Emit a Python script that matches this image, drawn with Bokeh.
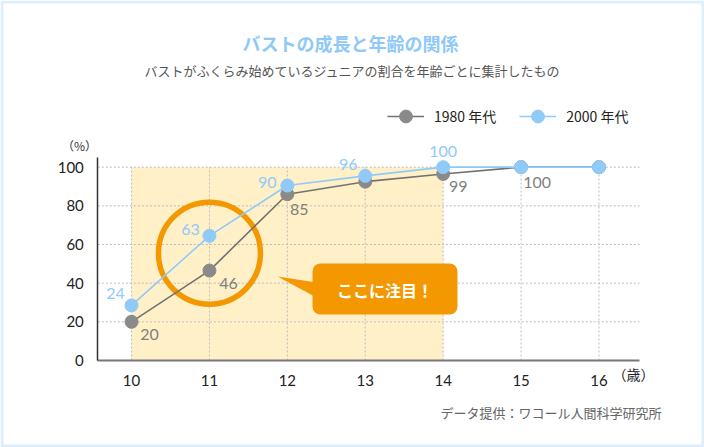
from bokeh.plotting import figure
from bokeh.models import (Range1d, FixedTicker, BoxAnnotation, PolyAnnotation, Label,
                          LabelSet, ColumnDataSource, Legend, LegendItem)
from bokeh.core.properties import value
from bokeh.embed import file_html
from bokeh.resources import INLINE

# ---- data ----
ages = [10, 11, 12, 13, 14, 15, 16]
bust_1980 = [20, 46.5, 86, 92.5, 96.5, 100, 100]
bust_2000 = [28.5, 64.5, 90.5, 95.5, 100, 100, 100]
labels_1980 = ["20", "46", "85", "", "99", "100", ""]
labels_2000 = ["24", "63", "90", "96", "100", "", ""]
y_ticks = [0, 20, 40, 60, 80, 100]
highlight_ages = [10, 14]
focus_age = 11

# ---- label offsets (layout) ----
off_1980_x = [18, 19, 12, 0, 15, 16, 0]
off_1980_y = [-13, -13, -15, 0, -13, -15, 0]
off_2000_x = [-16, -19, -20, -17, 0, 0, 0]
off_2000_y = [12, 6, 3, 11, 16, 0, 0]

GRAY = "#8a8a8a"
GRAY_LINE = "#727272"
BLUE = "#90caf9"
ORANGE = "#f39800"
JP = "Noto Sans CJK JP"
NUM = "Lato"

# ---- layout: canvas size and plot-area position (pixels) ----
W, H = 704, 447
AREA_L, AREA_R, AREA_T, AREA_B = 97.3, 639, 157, 360
X_LO, X_HI = 9.567, 16.52
Y_LO, Y_HI = 0, 105
sx = (AREA_R - AREA_L) / (X_HI - X_LO)
sy = (AREA_B - AREA_T) / (Y_HI - Y_LO)
x_range = Range1d(X_LO - AREA_L / sx, X_HI + (W - AREA_R) / sx)
y_range = Range1d(Y_LO - (H - AREA_B) / sy, Y_HI + AREA_T / sy)

p = figure(width=W, height=H, x_range=x_range, y_range=y_range,
           output_backend="svg", toolbar_location=None,
           min_border_left=0, min_border_right=0, min_border_top=0, min_border_bottom=0)
p.outline_line_color = None
p.background_fill_color = "white"
p.border_fill_color = "white"

# frame border around the whole picture
p.add_layout(BoxAnnotation(left=1.5, right=W - 1.5, bottom=1.5, top=H - 1.5,
                           left_units="screen", right_units="screen",
                           bottom_units="screen", top_units="screen",
                           fill_color=None, line_color="#8ec9f7", line_width=3, level="overlay"))

# axes (fixed inside the canvas)
p.xaxis.fixed_location = Y_LO
p.xaxis.bounds = (X_LO, X_HI)
p.yaxis.fixed_location = X_LO
p.yaxis.bounds = (Y_LO, Y_HI)
p.xaxis.ticker = FixedTicker(ticks=ages)
p.yaxis.ticker = FixedTicker(ticks=y_ticks)
for ax in (p.xaxis, p.yaxis):
    ax.major_tick_line_color = None
    ax.minor_tick_line_color = None
    ax.major_label_text_font = NUM
    ax.major_label_text_font_size = "15px"
    ax.major_label_text_color = "#222222"
p.xaxis.axis_line_color = "#777777"
p.xaxis.axis_line_width = 2
p.yaxis.axis_line_color = "#333333"
p.yaxis.axis_line_width = 1.5
p.xaxis.major_label_standoff = 8
p.yaxis.major_label_standoff = 8
p.xgrid.visible = False
p.ygrid.visible = False

# highlight band
p.add_layout(BoxAnnotation(left=highlight_ages[0], right=highlight_ages[1], bottom=0, top=max(y_ticks),
                           fill_color="#fff0c8", fill_alpha=1, line_color=None, level="image"))

# dotted grid
hy = y_ticks[1:]
p.segment(x0=[X_LO] * len(hy), y0=hy, x1=[X_HI] * len(hy), y1=hy,
          line_color="#bdbdbd", line_dash="2 2", line_width=1)
p.segment(x0=ages, y0=[0] * len(ages), x1=ages, y1=[max(y_ticks)] * len(ages),
          line_color="#bdbdbd", line_dash="2 2", line_width=1)

# focus ring around age 11
fi = ages.index(focus_age)
p.scatter(x=[focus_age], y=[(bust_1980[fi] + bust_2000[fi]) / 2], size=102,
          fill_color=None, line_color=ORANGE, line_width=5.5)

# series
l1 = p.line(ages, bust_1980, line_color=GRAY_LINE, line_width=1.6)
s1 = p.scatter(ages, bust_1980, size=13, fill_color=GRAY, line_color=GRAY)
l2 = p.line(ages, bust_2000, line_color=BLUE, line_width=1.6)
s2 = p.scatter(ages, bust_2000, size=13, fill_color=BLUE, line_color=BLUE)

src1 = ColumnDataSource(dict(x=ages, y=bust_1980, t=labels_1980, dx=off_1980_x, dy=off_1980_y))
src2 = ColumnDataSource(dict(x=ages, y=bust_2000, t=labels_2000, dx=off_2000_x, dy=off_2000_y))
p.add_layout(LabelSet(x="x", y="y", text="t", x_offset="dx", y_offset="dy", source=src1,
                      text_font=value(NUM), text_font_size="16px", text_color="#7f7f7f",
                      text_align="center", text_baseline="middle"))
p.add_layout(LabelSet(x="x", y="y", text="t", x_offset="dx", y_offset="dy", source=src2,
                      text_font=value(NUM), text_font_size="16px", text_color=BLUE,
                      text_align="center", text_baseline="middle"))

# legend
legend = Legend(items=[LegendItem(label="1980 年代", renderers=[l1, s1]),
                       LegendItem(label="2000 年代", renderers=[l2, s2])],
                orientation="horizontal", location=(387, 315),
                glyph_width=37, glyph_height=32, label_height=32, label_standoff=10, spacing=23,
                padding=0, margin=0, border_line_color=None, background_fill_alpha=0,
                label_text_font=JP, label_text_font_size="14px", label_text_color="#222222")
p.add_layout(legend)

# callout
p.add_layout(BoxAnnotation(left=312, right=457, bottom=133, top=184,
                           left_units="screen", right_units="screen",
                           bottom_units="screen", top_units="screen",
                           fill_color=ORANGE, fill_alpha=1, line_color=None,
                           border_radius=8, level="overlay"))
p.add_layout(PolyAnnotation(xs=[277, 316, 316], ys=[171, 165, 150], xs_units="screen", ys_units="screen",
                            fill_color=ORANGE, fill_alpha=1, line_color=None, level="overlay"))
p.add_layout(Label(x=384.5, y=158, x_units="screen", y_units="screen", text="ここに注目！",
                   text_font=JP, text_font_size="16px", text_font_style="bold", text_color="white",
                   text_align="center", text_baseline="middle", level="overlay"))

# texts
p.add_layout(Label(x=350, y=405, x_units="screen", y_units="screen", text="バストの成長と年齢の関係",
                   text_font=JP, text_font_size="18px", text_font_style="bold", text_color="#8ec9f7",
                   text_align="center", text_baseline="middle"))
p.add_layout(Label(x=352, y=377, x_units="screen", y_units="screen",
                   text="バストがふくらみ始めているジュニアの割合を年齢ごとに集計したもの",
                   text_font=JP, text_font_size="13px", text_color="#555555",
                   text_align="center", text_baseline="middle"))
p.add_layout(Label(x=79, y=302, x_units="screen", y_units="screen", text="（%）",
                   text_font=JP, text_font_size="12px", text_color="#333333",
                   text_align="center", text_baseline="middle"))
p.add_layout(Label(x=612, y=74, x_units="screen", y_units="screen", text="（歳）",
                   text_font=JP, text_font_size="14px", text_color="#222222",
                   text_align="left", text_baseline="middle"))
p.add_layout(Label(x=661, y=35, x_units="screen", y_units="screen", text="データ提供：ワコール人間科学研究所",
                   text_font=JP, text_font_size="13px", text_color="#666666",
                   text_align="right", text_baseline="middle"))

open("out.html", "w").write(file_html(p, INLINE))
